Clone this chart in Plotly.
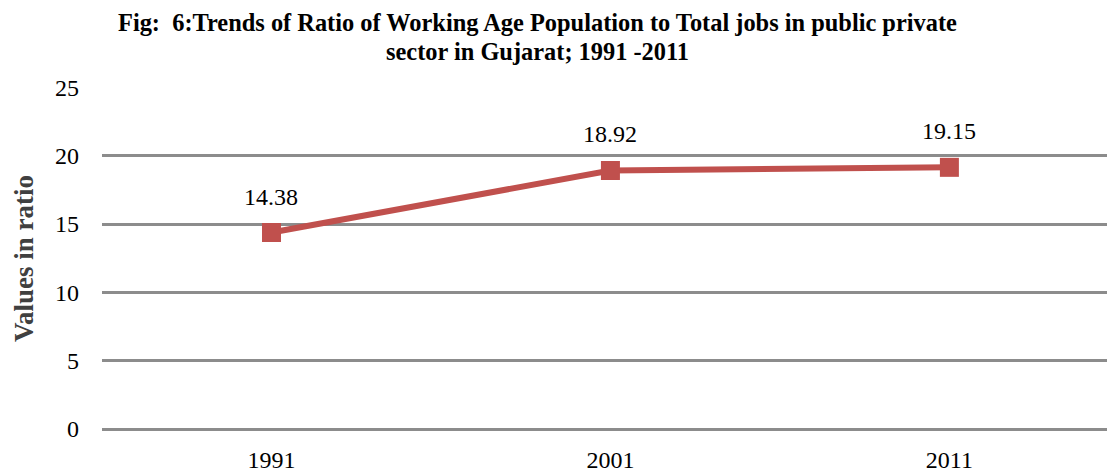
import plotly.graph_objects as go

years = ["1991", "2001", "2011"]
ratios = [14.38, 18.92, 19.15]
y_ticks = [0, 5, 10, 15, 20, 25]

title_lines = [
    "Fig:  6:Trends of Ratio of Working Age Population to Total jobs in public private",
    "sector in Gujarat; 1991 -2011",
]

LINE_RED = "#C0504D"
GRID = "#8C8C8C"
SERIF = "Liberation Serif, Times New Roman, serif"

fig = go.Figure()
fig.add_trace(go.Scatter(
    x=years,
    y=ratios,
    mode="lines+markers",
    line=dict(color=LINE_RED, width=6),
    marker=dict(symbol="square", size=19, color=LINE_RED),
    showlegend=False,
    hoverinfo="skip",
))

# value labels above each point
for i, v in enumerate(ratios):
    fig.add_annotation(
        x=i, y=v, xref="x", yref="y",
        text=f"{v:.2f}", showarrow=False,
        yshift=36, font=dict(family=SERIF, size=24, color="#000000"),
    )

# two-line bold title
for k, line in enumerate(title_lines):
    fig.add_annotation(
        x=(537 - 102) / 1005, y=1.0, xref="paper", yref="paper",
        xanchor="center", yanchor="middle", yshift=87 - 22 - 29 * k,
        text="<b>" + line + "</b>",
        showarrow=False, align="center",
        font=dict(family=SERIF, size=24.4, color="#000000"),
    )

fig.add_annotation(
    x=(24 - 102) / 1005, y=(429 - 259) / 342, xref="paper", yref="paper",
    xanchor="center", yanchor="middle",
    text="<b>Values in ratio</b>", textangle=-90, showarrow=False,
    font=dict(family=SERIF, size=27, color="#404040"),
)

fig.update_layout(
    width=1107, height=475,
    margin=dict(l=102, r=0, t=87, b=46, autoexpand=False),
    plot_bgcolor="white", paper_bgcolor="white",
    xaxis=dict(
        type="category", range=[-0.5, 2.465], automargin=False,
        showgrid=False, zeroline=False, showline=False,
        ticks="", ticklabelstandoff=14,
        tickfont=dict(family=SERIF, size=24, color="#000000"),
    ),
    yaxis=dict(
        range=[0, 25.03], tickvals=y_ticks, automargin=False,
        showgrid=True, gridcolor=GRID, gridwidth=3,
        zeroline=True, zerolinecolor=GRID, zerolinewidth=3,
        showline=False, ticks="", ticklabelstandoff=22,
        tickfont=dict(family=SERIF, size=24, color="#000000"),
    ),
)

fig.write_html("out.html")
